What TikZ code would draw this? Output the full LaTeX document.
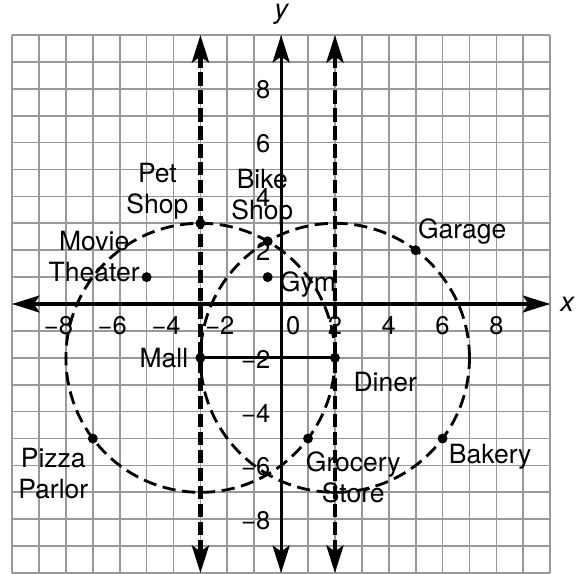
\documentclass[tikz,border=0pt]{standalone}
\usepackage{fontspec}
\setmainfont{TeX Gyre Heros}
\usetikzlibrary{arrows.meta}
\begin{document}
\begin{tikzpicture}[
  gridline/.style={line width=1.8pt, draw=black!40},
  tipboth/.style={{Stealth[length=29pt,width=18pt,inset=6pt]}-{Stealth[length=29pt,width=18pt,inset=6pt]}},
  axisline/.style={line width=3.2pt, tipboth},
  vdash/.style={line width=4.4pt, dash pattern=on 14pt off 5pt, tipboth},
  circdash/.style={line width=3pt, dash pattern=on 14pt off 7pt},
  segline/.style={line width=3.2pt},
  lbl/.style={font=\fontsize{28}{33}\selectfont, inner sep=0pt, align=center},
  tick/.style={font=\fontsize{27}{30}\selectfont, inner sep=0pt},
  axlbl/.style={font=\fontsize{29}{32}\selectfont\itshape, inner sep=0pt},
  dot/.style={circle, fill=black, inner sep=0pt, minimum size=0.37cm}
]
\useasboundingbox (-10.45,-10) rectangle (11.22,11.3);
% grid
\draw[gridline] (-10,-10) grid (10,10);

% key points
\coordinate (mall) at (-3,-2);
\coordinate (diner) at (2,-2);

% circles
\draw[circdash] (mall) circle (5);
\draw[circdash] (diner) circle (5);

% dashed vertical lines
\coordinate (vlt) at (-3,10);
\coordinate (vlb) at (-3,-10);
\coordinate (vrt) at (2,10);
\coordinate (vrb) at (2,-10);
\draw[vdash] (vlb) -- (vlt);
\draw[vdash] (vrb) -- (vrt);

% axes
\coordinate (xl) at (-10,0);
\coordinate (xr) at (10,0);
\coordinate (yb) at (0,-10);
\coordinate (yt) at (0,10);
\draw[axisline] (xl) -- (xr);
\draw[axisline] (yb) -- (yt);
\node[axlbl] (xlab) at (10.63,0) {x};
\node[axlbl] (ylab) at (0,10.78) {y};

% segment
\draw[segline] (mall) -- (diner);

% tick labels
\foreach \v in {-8,-6,-4,-2} {
  \node[tick] at (\v,-0.8) {\llap{−}\the\numexpr-\v\relax};
  \node[tick] at (-0.67,\v-0.05) {\llap{−}\the\numexpr-\v\relax};
}
\foreach \v in {2,4,6,8} {
  \node[tick] at (\v,-0.8) {\v};
  \node[tick] at (-0.67,\v-0.05) {\v};
}
\node[tick] at (0.45,-0.8) {0};

% dots
\node[dot] (pet) at (-3,3) {};
\node[dot] (bike) at (-0.5,2.33) {};
\node[dot] (movie) at (-5,1) {};
\node[dot] (gym) at (-0.5,1) {};
\node[dot] (garage) at (5,2) {};
\node[dot] (malldot) at (mall) {};
\node[dot] (dinerdot) at (diner) {};
\node[dot] (pizza) at (-7,-5) {};
\node[dot] (grocery) at (1,-5) {};
\node[dot] (bakery) at (6,-5) {};

% labels
\node[lbl] (petl) at (-4.6,4.2) {Pet\\Shop};
\node[lbl] (bikel) at (-0.7,3.98) {Bike\\Shop};
\node[lbl] (moviel) at (-6.95,1.75) {Movie\\Theater};
\node[lbl, anchor=west] (gyml) at (-0.05,0.72) {Gym};
\node[lbl] (garagel) at (6.73,2.68) {Garage};
\node[lbl] (pizzal) at (-8.47,-6.3) {Pizza\\Parlor};
\node[lbl, anchor=east] (malll) at (-3.45,-2.0) {Mall};
\node[lbl] (dinerl) at (3.87,-2.9) {Diner};
\node[lbl] (groceryl) at (2.68,-6.43) {Grocery\\Store};
\node[lbl] (bakeryl) at (7.77,-5.69) {Bakery};
\end{tikzpicture}
\end{document}
